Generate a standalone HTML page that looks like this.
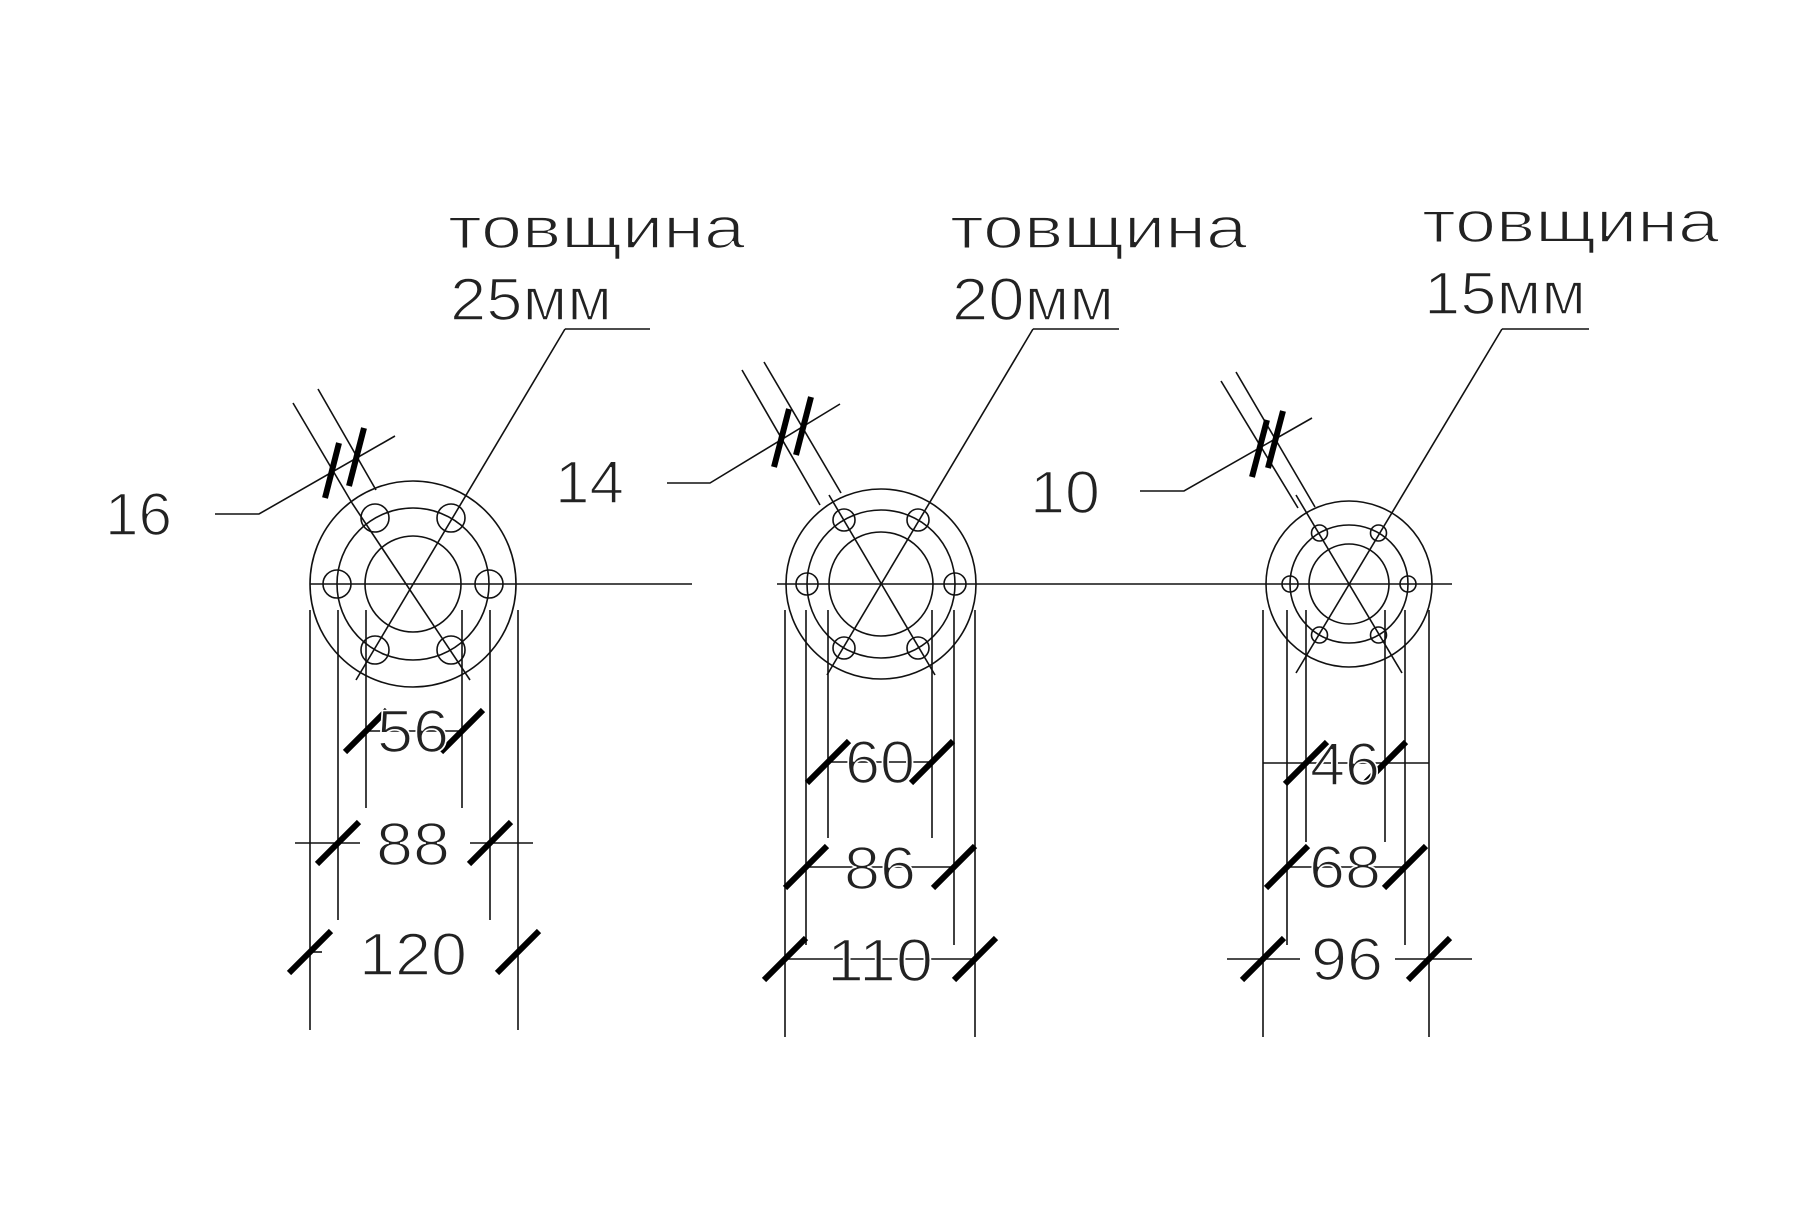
<!DOCTYPE html>
<html><head><meta charset="utf-8"><style>
html,body{margin:0;padding:0;background:#fff;}
svg{display:block;}
text{font-family:"Liberation Sans",sans-serif;fill:#222;stroke:#fff;stroke-width:1.6px;}
</style></head><body>
<svg width="1800" height="1213" viewBox="0 0 1800 1213" xmlns="http://www.w3.org/2000/svg">
<g stroke="#111" stroke-width="1.6" fill="none">
<circle cx="413" cy="584" r="103"/><circle cx="413" cy="584" r="76"/><circle cx="413" cy="584" r="48"/>
<circle cx="489" cy="584" r="14"/><circle cx="337" cy="584" r="14"/>
<circle cx="451" cy="518" r="14"/><circle cx="375" cy="518" r="14"/>
<circle cx="451" cy="650" r="14"/><circle cx="375" cy="650" r="14"/>
<line x1="310" y1="584" x2="692" y2="584"/>
<line x1="565" y1="329" x2="356" y2="680"/>
<line x1="470" y1="680" x2="352" y2="503"/>
<line x1="565" y1="329" x2="650" y2="329"/>
<line x1="293" y1="403" x2="352" y2="503"/>
<line x1="318" y1="389" x2="376" y2="490"/>
<polyline points="215,514 259,514 395,436"/>
<line x1="310" y1="610" x2="310" y2="1030"/><line x1="518" y1="610" x2="518" y2="1030"/>
<line x1="338" y1="610" x2="338" y2="920"/><line x1="490" y1="610" x2="490" y2="920"/>
<line x1="366" y1="610" x2="366" y2="808"/><line x1="462" y1="610" x2="462" y2="808"/>
<line x1="366" y1="731" x2="462" y2="731"/>
<line x1="295" y1="843" x2="360" y2="843"/><line x1="470" y1="843" x2="533" y2="843"/>
<line x1="310" y1="952" x2="322" y2="952"/>

<circle cx="881" cy="584" r="95"/><circle cx="881" cy="584" r="74"/><circle cx="881" cy="584" r="52"/>
<circle cx="955" cy="584" r="11"/><circle cx="807" cy="584" r="11"/>
<circle cx="918" cy="520" r="11"/><circle cx="844" cy="520" r="11"/>
<circle cx="918" cy="648" r="11"/><circle cx="844" cy="648" r="11"/>
<line x1="777" y1="584" x2="1452" y2="584"/>
<line x1="1033" y1="329" x2="827" y2="675"/>
<line x1="935" y1="675" x2="829" y2="495"/>
<line x1="1033" y1="329" x2="1119" y2="329"/>
<line x1="742" y1="370" x2="820" y2="505"/>
<line x1="764" y1="362" x2="841" y2="493"/>
<polyline points="667,483 710,483 840,404"/>
<line x1="785" y1="610" x2="785" y2="1037"/><line x1="975" y1="610" x2="975" y2="1037"/>
<line x1="806" y1="610" x2="806" y2="945"/><line x1="954" y1="610" x2="954" y2="945"/>
<line x1="828" y1="610" x2="828" y2="838"/><line x1="932" y1="610" x2="932" y2="838"/>
<line x1="828" y1="762" x2="932" y2="762"/>
<line x1="806" y1="867" x2="954" y2="867"/>
<line x1="785" y1="959" x2="975" y2="959"/>

<circle cx="1349" cy="584" r="83"/><circle cx="1349" cy="584" r="59"/><circle cx="1349" cy="584" r="40"/>
<circle cx="1408" cy="584" r="8"/><circle cx="1290" cy="584" r="8"/>
<circle cx="1378.5" cy="533" r="8"/><circle cx="1319.5" cy="533" r="8"/>
<circle cx="1378.5" cy="635" r="8"/><circle cx="1319.5" cy="635" r="8"/>
<line x1="1502" y1="329" x2="1296" y2="673"/>
<line x1="1402" y1="673" x2="1296" y2="495"/>
<line x1="1502" y1="329" x2="1589" y2="329"/>
<line x1="1221" y1="381" x2="1298" y2="508"/>
<line x1="1236" y1="372" x2="1315" y2="507"/>
<polyline points="1140,491 1184,491 1312,418"/>
<line x1="1263" y1="610" x2="1263" y2="1037"/><line x1="1429" y1="610" x2="1429" y2="1037"/>
<line x1="1287" y1="610" x2="1287" y2="945"/><line x1="1405" y1="610" x2="1405" y2="945"/>
<line x1="1306" y1="610" x2="1306" y2="842"/><line x1="1385" y1="610" x2="1385" y2="842"/>
<line x1="1263" y1="763" x2="1429" y2="763"/>
<line x1="1287" y1="867" x2="1405" y2="867"/>
<line x1="1227" y1="959" x2="1300" y2="959"/><line x1="1395" y1="959" x2="1472" y2="959"/>
</g>

<g stroke="#000" stroke-width="6" stroke-linecap="butt">
<line x1="339" y1="443" x2="325" y2="498"/><line x1="364" y1="428" x2="349" y2="486"/>
<line x1="789" y1="409" x2="774" y2="467"/><line x1="811" y1="397" x2="796" y2="455"/>
<line x1="1267" y1="420" x2="1252" y2="477"/><line x1="1283" y1="411" x2="1268" y2="468"/>
<line x1="345" y1="752" x2="387" y2="710"/><line x1="441" y1="752" x2="483" y2="710"/>
<line x1="317" y1="864" x2="359" y2="822"/><line x1="469" y1="864" x2="511" y2="822"/>
<line x1="289" y1="973" x2="331" y2="931"/><line x1="497" y1="973" x2="539" y2="931"/>
<line x1="807" y1="783" x2="849" y2="741"/><line x1="911" y1="783" x2="953" y2="741"/>
<line x1="785" y1="888" x2="827" y2="846"/><line x1="933" y1="888" x2="975" y2="846"/>
<line x1="764" y1="980" x2="806" y2="938"/><line x1="954" y1="980" x2="996" y2="938"/>
<line x1="1285" y1="784" x2="1327" y2="742"/><line x1="1364" y1="784" x2="1406" y2="742"/>
<line x1="1266" y1="888" x2="1308" y2="846"/><line x1="1384" y1="888" x2="1426" y2="846"/>
<line x1="1242" y1="980" x2="1284" y2="938"/><line x1="1408" y1="980" x2="1450" y2="938"/>
</g>

<g font-size="58">
<text x="448" y="248" textLength="297" lengthAdjust="spacingAndGlyphs">товщина</text>
<text x="450" y="320" font-size="60" textLength="162" lengthAdjust="spacingAndGlyphs">25мм</text>
<text x="950" y="248" textLength="297" lengthAdjust="spacingAndGlyphs">товщина</text>
<text x="952" y="320" font-size="60" textLength="162" lengthAdjust="spacingAndGlyphs">20мм</text>
<text x="1422" y="242" textLength="297" lengthAdjust="spacingAndGlyphs">товщина</text>
<text x="1424" y="314" font-size="60" textLength="162" lengthAdjust="spacingAndGlyphs">15мм</text>
</g>
<g font-size="60">
<text x="105" y="535" textLength="67" lengthAdjust="spacingAndGlyphs">16</text>
<text x="555" y="503" textLength="69" lengthAdjust="spacingAndGlyphs">14</text>
<text x="1030" y="513" textLength="70" lengthAdjust="spacingAndGlyphs">10</text>
</g>
<g font-size="60" text-anchor="middle">
<text x="413" y="752" textLength="72" lengthAdjust="spacingAndGlyphs">56</text>
<text x="413" y="865" textLength="74" lengthAdjust="spacingAndGlyphs">88</text>
<text x="413" y="975" textLength="108" lengthAdjust="spacingAndGlyphs">120</text>
<text x="880" y="783" textLength="70" lengthAdjust="spacingAndGlyphs">60</text>
<text x="880" y="889" textLength="72" lengthAdjust="spacingAndGlyphs">86</text>
<text x="880" y="981" textLength="106" lengthAdjust="spacingAndGlyphs">110</text>
<text x="1345" y="785" textLength="70" lengthAdjust="spacingAndGlyphs">46</text>
<text x="1345" y="888" textLength="72" lengthAdjust="spacingAndGlyphs">68</text>
<text x="1347" y="980" textLength="72" lengthAdjust="spacingAndGlyphs">96</text>
</g>
</svg>
</body></html>
